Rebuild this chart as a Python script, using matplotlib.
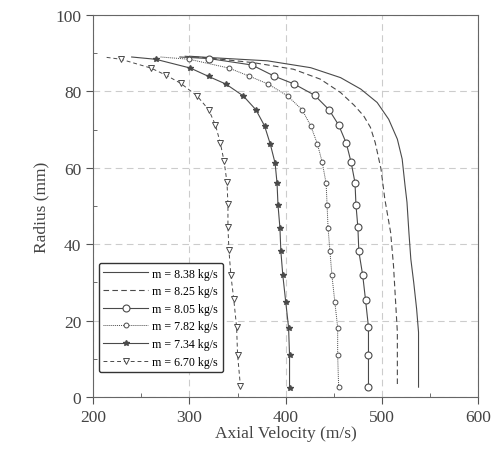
import matplotlib.pyplot as plt
from matplotlib.ticker import MultipleLocator

plt.rcParams['font.family'] = ['Liberation Serif', 'DejaVu Serif']

# radius (mm) / axial velocity (m/s)
r_838 = [89.2, 88.8, 88.0, 86.2, 83.6, 80.6, 77.1, 72.7, 67.5, 62.3, 55.3, 51.0, 43.1, 36.1, 30.0, 23.1, 17.0, 2.6]
v_838 = [300, 325, 381, 426, 457, 478, 495, 507, 516, 521, 524, 526, 528, 530, 533, 536, 538, 538]

r_825 = [89.2, 88.8, 87.5, 85.8, 83.2, 79.7, 76.4, 73.6, 70.6, 66.6, 59.7, 51.8, 43.1, 34.4, 25.7, 17.0, 2.6]
v_825 = [295, 318, 367, 408, 436, 457, 471, 481, 488, 493, 499, 503, 509, 512, 514, 516, 516]

r_805 = [89.0, 88.6, 86.9, 84.0, 81.9, 79.0, 75.2, 71.2, 66.4, 61.4, 56.1, 50.3, 44.4, 38.1, 31.9, 25.3, 18.3, 11.1, 2.6]
v_805 = [290, 320, 365, 388, 409, 430, 445, 455, 463, 468, 472, 473, 475, 476, 480, 483, 486, 486, 486]

r_782 = [89.0, 88.4, 86.1, 84.0, 81.9, 78.8, 75.2, 71.0, 66.2, 61.4, 55.9, 50.3, 44.3, 38.1, 31.9, 25.0, 18.2, 10.9, 2.6]
v_782 = [270, 300, 341, 362, 382, 402, 417, 426, 433, 438, 442, 443, 444, 446, 448, 451, 454, 454, 455]

r_734 = [89.0, 88.4, 86.1, 83.9, 81.9, 78.8, 75.2, 71.0, 66.2, 61.2, 56.0, 50.3, 44.3, 38.1, 31.9, 25.0, 18.2, 10.9, 2.4]
v_734 = [240, 265, 301, 320, 338, 356, 369, 378, 384, 389, 391, 392, 394, 395, 397, 400, 403, 404, 404]

r_670 = [88.9, 88.4, 86.1, 84.2, 82.1, 78.8, 75.2, 71.2, 66.6, 61.7, 56.2, 50.5, 44.6, 38.6, 32.0, 25.7, 18.3, 11.1, 2.8]
v_670 = [214, 229, 260, 276, 291, 308, 320, 327, 332, 336, 339, 340, 340, 341, 343, 346, 349, 350, 353]

labels = ['m = 8.38 kg/s', 'm = 8.25 kg/s', 'm = 8.05 kg/s',
          'm = 7.82 kg/s', 'm = 7.34 kg/s', 'm = 6.70 kg/s']

fig = plt.figure(figsize=(4.93, 4.56), dpi=100)
ax = fig.add_axes([0.189, 0.127, 0.781, 0.838])

c = '#4a4a4a'
ax.plot(v_838, r_838, '-', color=c, lw=0.8, label=labels[0])
ax.plot(v_825, r_825, '--', color=c, lw=0.8, dashes=(5, 3), label=labels[1])
ax.plot(v_805, r_805, '-', color=c, lw=0.8, marker='o', ms=5, mfc='white',
        mec=c, mew=0.8, markevery=slice(1, None), label=labels[2])
ax.plot(v_782, r_782, color=c, lw=0.7, ls=(0, (1, 1)), marker='o', ms=3.5, mfc='white',
        mec=c, mew=0.7, markevery=slice(1, None), label=labels[3])
ax.plot(v_734, r_734, '-', color=c, lw=0.8, marker='*', ms=4, mfc=c,
        mec=c, markevery=slice(1, None), label=labels[4])
ax.plot(v_670, r_670, '--', color=c, lw=0.7, dashes=(4, 3), marker='v', ms=4.5, mfc='white',
        mec=c, mew=0.7, markevery=slice(1, None), label=labels[5])

ax.set_xlim(200, 600)
ax.set_ylim(0, 100)
ax.xaxis.set_major_locator(MultipleLocator(100))
ax.xaxis.set_minor_locator(MultipleLocator(50))
ax.yaxis.set_major_locator(MultipleLocator(20))
ax.yaxis.set_minor_locator(MultipleLocator(10))
ax.tick_params(which='major', direction='out', length=5, color='#555555', labelsize=12.5, labelcolor='#444444')
ax.tick_params(which='minor', direction='in', length=3, color='#555555')
ax.grid(True, which='major', ls='--', color='#cccccc', lw=0.8, dashes=(6, 4))
for s in ax.spines.values():
    s.set_color('#666666')

ax.set_xlabel('Axial Velocity (m/s)', fontsize=12.5, color='#444444', labelpad=0)
ax.set_ylabel('Radius (mm)', fontsize=12.5, color='#444444')

leg = ax.legend(loc='lower left', bbox_to_anchor=(0.005, 0.055), fontsize=8.6,
                handlelength=3.7, labelspacing=0.47, borderpad=0.4, handletextpad=0.4,
                borderaxespad=0.3, fancybox=True, edgecolor='#333333', framealpha=1)
leg.get_frame().set_linewidth(1.0)

fig.savefig('out.png', dpi=100)
